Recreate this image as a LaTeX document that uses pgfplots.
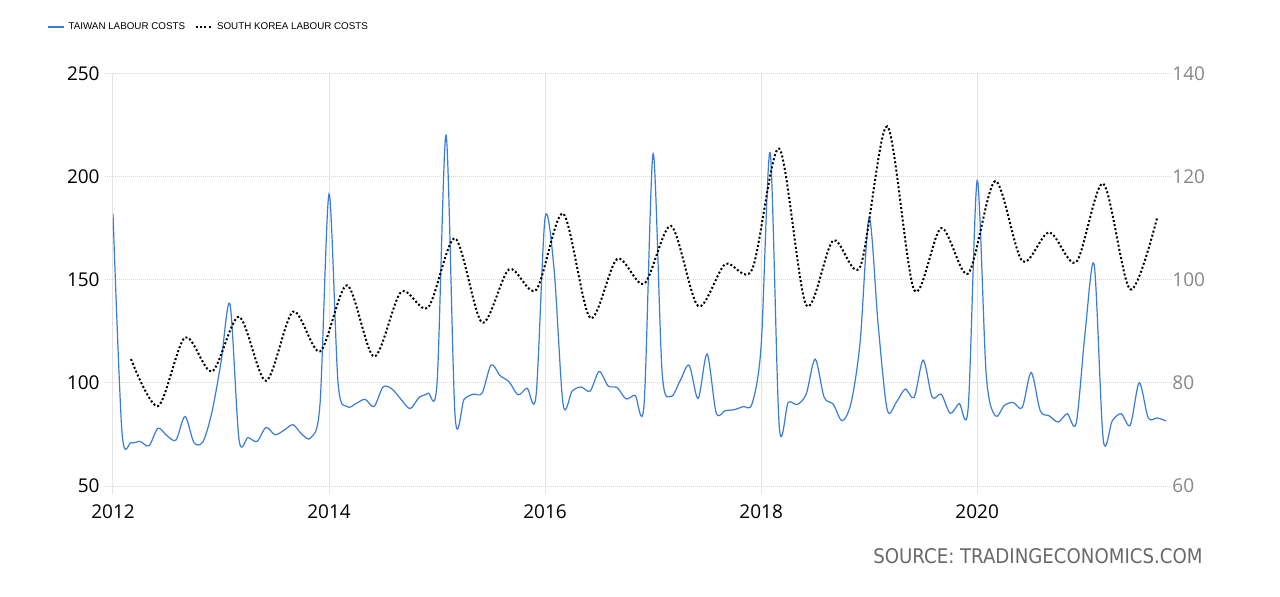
\documentclass[border=0pt]{standalone}
\usepackage{fontspec}
\setmainfont{Open Sans}
\newfontfamily\legfont{Liberation Sans}
\newfontfamily\srcfont{DejaVu Sans Condensed}
\usepackage{pgfplots}
\pgfplotsset{compat=1.18}
\definecolor{tw}{RGB}{58,125,214}
\definecolor{gridh}{RGB}{215,215,215}
\definecolor{gridv}{RGB}{228,228,228}
\definecolor{rlab}{RGB}{135,135,135}
\definecolor{src}{RGB}{105,105,105}

\pgfplotstableread{
m v
0 182
1 76
2 71
3 71.6
4 69.5
5 78
6 74.4
7 72.3
8 83.7
9 71
10 71.5
11 86
12 110
13 138
14 72.5
15 73.5
16 71.6
17 78.4
18 74.8
19 77
20 79.7
21 75
22 73.5
23 90
24 191.5
25 100
26 88.5
27 90
28 92
29 88.5
30 98
31 97
32 92
33 87.5
34 92.9
35 95
36 100
37 220
38 84
39 92
40 94.5
41 95
42 108.7
43 103.5
44 100.5
45 94.2
46 97.4
47 94
48 180
49 155
50 89.5
51 96
52 98
53 96
54 105.5
55 98.5
56 97.7
57 92.2
58 94
59 90
60 211
61 105
62 93.5
63 101
64 108.5
65 92.4
66 114
67 85.5
68 86.5
69 87
70 88.5
71 90
72 118
73 211.5
74 79.5
75 90.5
76 89.5
77 94.5
78 111.5
79 93
80 89.7
81 81.6
82 90.5
83 120
84 180
85 128
86 87
87 90.5
88 97
89 93
90 111
91 93
92 94.5
93 85.2
94 90
95 88
96 198
97 104
98 84
99 89
100 90.5
101 88
102 105
103 86.5
104 84
105 81
106 85
107 80.5
108 125
109 157
110 72.5
111 81.6
112 85
113 79.5
114 100
115 83
116 83
117 81.5
}\taiwan

\pgfplotstableread{
m v
2 84.6
5 75.5
8 88.8
11 82.2
14 92.8
17 80.4
20 93.8
23 86.1
26 98.9
29 85.1
32 97.6
35 94.6
38 108
41 91.7
44 102
47 98
50 112.8
53 92.6
56 104
59 99.2
62 110.4
65 94.9
68 103
71 102
74 125.4
77 95.1
80 107.6
83 102.5
86 129.7
89 98
92 110
95 101.2
98 119.1
101 103.6
104 109.2
107 103.4
110 118.6
113 98.1
116 112.1
}\korea

\begin{document}
\begin{tikzpicture}[x=1pt,y=1pt]
\fill[white] (-56.5,-55) rectangle (583.5,243);
\path[use as bounding box] (-56.5,-55) rectangle (583.5,243);
\begin{axis}[
  at={(0,0)}, anchor=south west,
  scale only axis, width=530pt, height=206.35pt,
  xmin=0, xmax=117.75, ymin=50, ymax=250,
  xtick={0,24,48,72,96}, xticklabels={2012,2014,2016,2018,2020},
  ytick={50,100,...,250},
  /pgf/number format/assume math mode=true,
  axis line style={draw=none},
  grid=major,
  x grid style={gridv, line width=0.5pt},
  y grid style={gridh, line width=0.5pt, dash pattern=on 0.5pt off 0.5pt},
  tick align=outside, tick pos=left,
  xtick style={gridv, line width=0.5pt},
  ytick style={gridh, line width=0.5pt, dash pattern=on 0.5pt off 0.5pt},
  major tick length=4pt,
  xticklabel style={font=\fontsize{9.5}{10}\selectfont, inner sep=0pt, anchor=north, yshift=-5pt},
  yticklabel style={font=\fontsize{9.5}{10}\selectfont, inner sep=0pt, anchor=east, xshift=-2.5pt},
]
\addplot[tw, line width=0.6pt, smooth] table[x=m, y=v] {\taiwan};
\end{axis}
\begin{axis}[
  at={(0,0)}, anchor=south west,
  scale only axis, width=530pt, height=206.35pt,
  xmin=0, xmax=117.75, ymin=60, ymax=140,
  axis x line=none, axis y line*=right,
  axis line style={draw=none},
  ytick={60,80,...,140},
  /pgf/number format/assume math mode=true,
  major tick length=0pt, ytick style={draw=none},
  yticklabel style={rlab, font=\fontsize{9.5}{10}\selectfont, inner sep=0pt, anchor=west, xshift=-0.5pt},
  legend columns=2,
  legend style={at={(-0.0623,1.112)}, anchor=west, draw=none, fill=none,
    font=\legfont\fontsize{4.9}{6}\selectfont, inner sep=0pt,
    /tikz/every even column/.append style={column sep=3pt}},
  legend image code/.code={\draw[#1] (0pt,0pt) -- (8pt,0pt);},
]
\addlegendimage{tw, line width=0.6pt}
\addlegendentry{TAIWAN LABOUR COSTS}
\addplot[black, line width=1pt, dash pattern=on 1pt off 1.1pt, smooth] table[x=m, y=v] {\korea};
\addlegendentry{SOUTH KOREA LABOUR COSTS}
\end{axis}
\node[anchor=base east, font=\srcfont\fontsize{10.1}{11}\selectfont, text=src, inner sep=0pt] at (545,-38.5) {SOURCE: TRADINGECONOMICS.COM};
\end{tikzpicture}
\end{document}
